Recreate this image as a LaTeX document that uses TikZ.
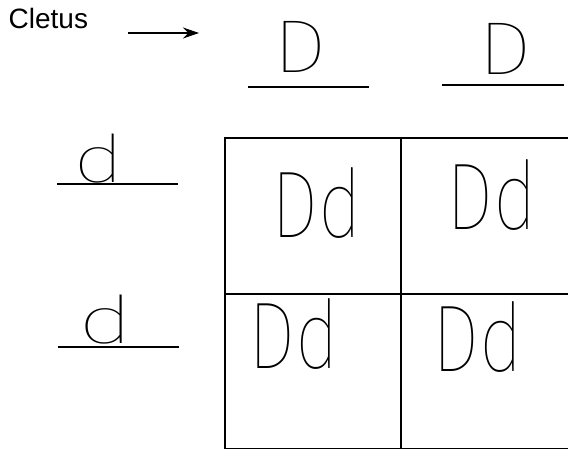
\documentclass[tikz,border=0pt]{standalone}
\usepackage{fontspec}
\usepackage{graphicx}
\setmainfont{Liberation Sans}
\newfontfamily\handfont{Fira Sans Thin}
\usetikzlibrary{arrows.meta, positioning, calc}
\tikzset{
  parent/.style={font=\fontsize{28}{30}\selectfont, inner sep=0pt, anchor=base west},
  hdr/.style={font=\handfont\fontsize{75}{80}\selectfont, inner sep=0pt, anchor=base},
  side/.style={font=\handfont\fontsize{66}{70}\selectfont, inner sep=0pt, anchor=base},
  geno/.style={font=\handfont\fontsize{95}{100}\selectfont, inner sep=0pt, anchor=base},
  blank/.style={line width=1.1pt},
  square/.style={line width=1.4pt},
  arr/.style={-{Stealth[length=16pt, width=11pt]}, line width=1.1pt},
}
\newcommand{\hw}[2]{\scalebox{#1}[1]{#2}}

\begin{document}
\begin{tikzpicture}[x=1pt, y=1pt]
  \useasboundingbox (0,0) rectangle (568,450);

  % parent name and pointer
  \node[parent] (cletus) at (8.5,421) {Cletus};
  \coordinate (arrtail) at (128,417);
  \coordinate (arrtip) at (199,417);
  \draw[arr] (arrtail) -- (arrtip);

  % alleles across the top
  \node[hdr] (dtopa) at (300,377) {\hw{1.15}{D}};
  \node[hdr] (dtopb) at (505,375) {\hw{1.15}{D}};
  \draw[blank] (248,363) -- (369,363);
  \draw[blank] (442,365) -- (564,365);

  % alleles down the side
  \node[side] (dsidea) at (99,267) {\hw{1.35}{d}};
  \node[side] (dsideb) at (106,106) {\hw{1.45}{d}};
  \draw[blank] (57,266) -- (178,266);
  \draw[blank] (58,103) -- (179,103);

  % the square
  \draw[square] (568,312) -- (225,312) -- (225,1.5) -- (568,1.5);
  \draw[square] (225,156) -- (568,156);
  \draw[square] (401,312) -- (401,1.5);

  % offspring
  \node[geno] (tl) at (317,212) {\hw{0.8}{Dd}};
  \node[geno] (tr) at (492,220) {\hw{0.8}{Dd}};
  \node[geno] (bl) at (294,81) {\hw{0.8}{Dd}};
  \node[geno] (br) at (478,78) {\hw{0.8}{Dd}};

\end{tikzpicture}
\end{document}
